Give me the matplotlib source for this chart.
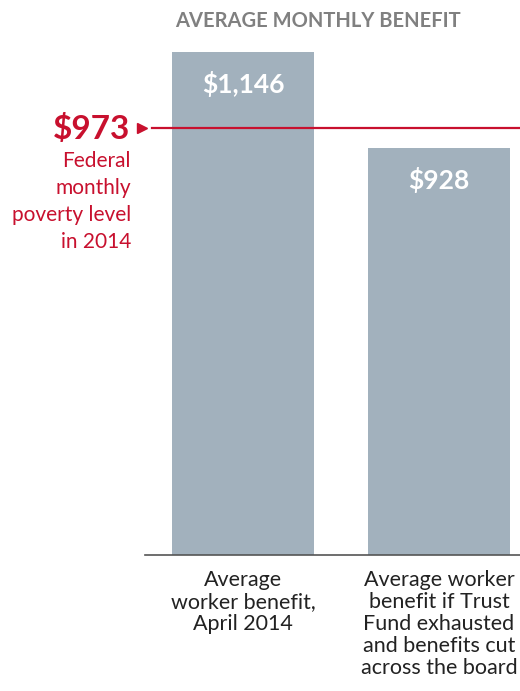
import matplotlib
matplotlib.use('Agg')
from matplotlib import pyplot as plt

# data
categories = ['Average\nworker benefit,\nApril 2014',
              'Average worker\nbenefit if Trust\nFund exhausted\nand benefits cut\nacross the board']
values = [1146, 928]
value_labels = ['$1,146', '$928']
poverty_level = 973
poverty_label = '$973'
poverty_text = 'Federal\nmonthly\npoverty level\nin 2014'
title = 'AVERAGE MONTHLY BENEFIT'

plt.rcParams['font.family'] = ['Lato', 'DejaVu Sans']

W, H = 520, 691
bar_color = '#a2b1bd'
red = '#c8102e'

fig = plt.figure(figsize=(W / 100, H / 100), dpi=100)
# axes placed in pixels: left 145, right 520, baseline 555, top 52
ax = fig.add_axes([145 / W, (H - 555) / H, 375 / W, (555 - 52) / H])
ax.set_xlim(-0.5, -0.5 + 375 / 196)
ax.set_ylim(0, values[0])

ax.bar(range(len(values)), values, width=142 / 196, color=bar_color, zorder=1)
for i, (v, lab) in enumerate(zip(values, value_labels)):
    ax.text(i, v - 44, lab, ha='center', va='top', color='white',
            fontsize=19, fontweight='bold', zorder=3)

# poverty line
ax.axhline(poverty_level, xmin=7 / 375, xmax=1, color=red, lw=1.6, zorder=2)
ax.plot([-0.5 - 3 / 196], [poverty_level], marker='>', color=red,
        markersize=7, clip_on=False, zorder=3)

for s in ['top', 'right', 'left']:
    ax.spines[s].set_visible(False)
ax.spines['bottom'].set_color('#555555')
ax.spines['bottom'].set_linewidth(1.2)
ax.set_xticks([])
ax.set_yticks([])

fig.text(130 / W, (H - 139) / H, poverty_label, ha='right', va='baseline',
         color=red, fontsize=24, fontweight='bold')
fig.text(131 / W, (H - 151) / H, poverty_text, ha='right', va='top',
         color=red, fontsize=15, linespacing=1.44)

fig.text(175 / W, (H - 27) / H, title, ha='left', va='baseline',
         color='#808080', fontsize=14.5, fontweight='bold')

for i, cat in enumerate(categories):
    xp = 145 + (i + 0.5) * 196
    fig.text(xp / W, (H - 570) / H, cat, ha='center', va='top',
             color='#222222', fontsize=15.5, linespacing=1.12)

plt.savefig('out.png', dpi=100)
